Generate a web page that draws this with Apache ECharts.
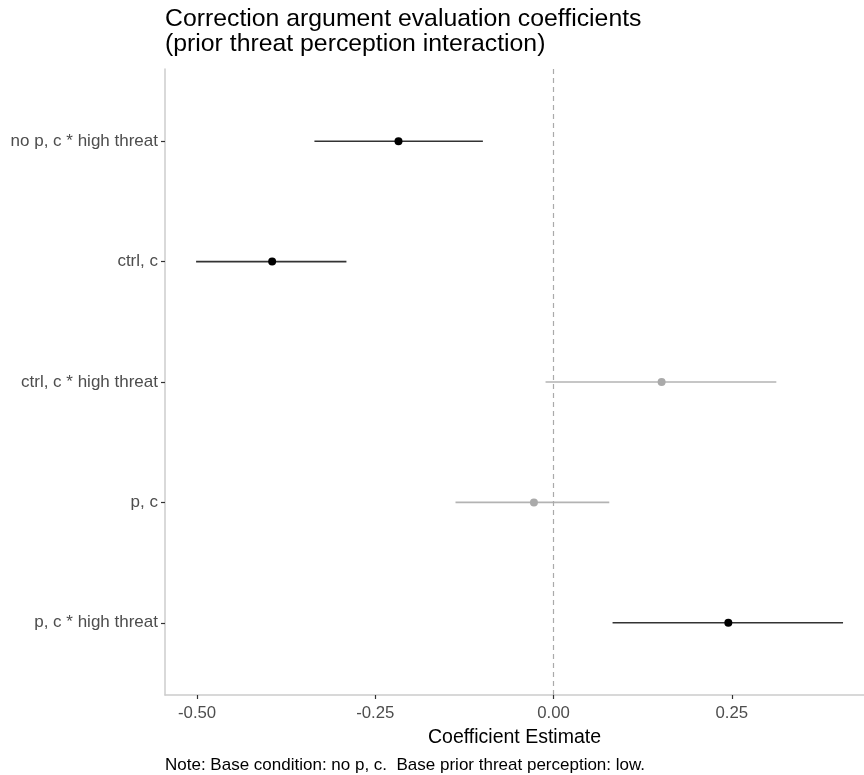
<!DOCTYPE html>
<html>
<head>
<meta charset="utf-8">
<script src="https://cdn.jsdelivr.net/npm/echarts@6/dist/echarts.min.js"></script>
<style>
  html, body { margin: 0; padding: 0; background: #fff; }
  #chart { width: 864px; height: 775px; }
</style>
</head>
<body>
<div id="chart"></div>
<script>
// Coefficient terms, top to bottom
const terms = ['no p, c * high threat', 'ctrl, c', 'ctrl, c * high threat', 'p, c', 'p, c * high threat'];
// Point estimates and 95% interval bounds
const estimates = [-0.2175, -0.3947, 0.1516, -0.0275, 0.2452];
const lower = [-0.3354, -0.5014, -0.0112, -0.1375, 0.0828];
const upper = [-0.0991, -0.2905, 0.3125, 0.0782, 0.4061];
// x-axis tick values
const xTicks = [-0.50, -0.25, 0.00, 0.25];

const FONT = '"Liberation Sans", Arial, sans-serif';
// intervals that cross zero are drawn in gray
const crossesZero = i => lower[i] <= 0 && upper[i] >= 0;
const colorFor = i => crossesZero(i) ? '#aaaaaa' : '#000000';
const lineColorFor = i => crossesZero(i) ? '#b3b3b3' : '#333333';

const rows = terms.map((t, i) => i + 1);

const chart = echarts.init(document.getElementById('chart'), null, { renderer: 'canvas' });

chart.setOption({
  backgroundColor: '#ffffff',
  animation: false,
  title: {
    text: 'Correction argument evaluation coefficients\n(prior threat perception interaction)',
    left: 160,
    top: 2,
    textStyle: { fontFamily: FONT, fontSize: 24.8, fontWeight: 'normal', color: '#000', lineHeight: 25 }
  },
  grid: { left: 165, right: 0, top: 69, bottom: 80, containLabel: false },
  xAxis: {
    type: 'value',
    min: -0.545,
    max: 0.4355,
    name: 'Coefficient Estimate',
    nameLocation: 'middle',
    nameGap: 33,
    nameTextStyle: { fontFamily: FONT, fontSize: 19.5, color: '#000' },
    splitLine: { show: false },
    axisLine: { show: true, onZero: false, lineStyle: { color: '#cccccc', width: 1.5 } },
    axisTick: { show: true, length: 4, customValues: xTicks, lineStyle: { color: '#333', width: 1.2 } },
    axisLabel: {
      customValues: xTicks,
      margin: 10,
      fontFamily: FONT, fontSize: 16.8, color: '#4d4d4d',
      formatter: v => v.toFixed(2)
    }
  },
  yAxis: {
    type: 'value',
    inverse: true,
    min: 0.4,
    max: 5.6,
    splitLine: { show: false },
    axisLine: { show: true, onZero: false, lineStyle: { color: '#cccccc', width: 1.5 } },
    axisTick: { show: true, length: 4, customValues: rows, lineStyle: { color: '#333', width: 1.2 } },
    axisLabel: {
      customValues: rows,
      margin: 7,
      fontFamily: FONT, fontSize: 17, color: '#4d4d4d',
      formatter: v => terms[Math.round(v) - 1] || ''
    }
  },
  series: [
    {
      type: 'custom',
      name: 'interval',
      data: terms.map((t, i) => [lower[i], upper[i], i + 1, i]),
      renderItem: (params, api) => {
        const i = api.value(3);
        const a = api.coord([api.value(0), api.value(2)]);
        const b = api.coord([api.value(1), api.value(2)]);
        return {
          type: 'line',
          shape: { x1: a[0], y1: a[1], x2: b[0], y2: b[1] },
          style: { stroke: lineColorFor(i), lineWidth: 1.6 }
        };
      },
      encode: { x: [0, 1], y: 2 },
      z: 2
    },
    {
      type: 'scatter',
      name: 'estimate',
      symbol: 'circle',
      symbolSize: 8,
      data: terms.map((t, i) => ({
        value: [estimates[i], i + 1],
        itemStyle: { color: colorFor(i), opacity: 1 }
      })),
      z: 3,
      markLine: {
        silent: true,
        symbol: 'none',
        label: { show: false },
        lineStyle: { type: [5, 4], color: '#aaaaaa', width: 1.2 },
        data: [{ xAxis: 0 }]
      }
    }
  ],
  graphic: [
    {
      type: 'text',
      left: 165,
      top: 757,
      style: {
        text: 'Note: Base condition: no p, c.  Base prior threat perception: low.',
        fontFamily: FONT, fontSize: 17, fill: '#000'
      }
    }
  ]
});
</script>
</body>
</html>
